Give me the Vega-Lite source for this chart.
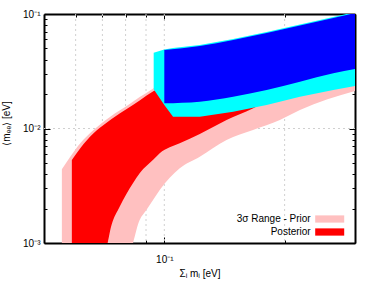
{
  "$schema": "https://vega.github.io/schema/vega-lite/v6.json",
  "width": 311,
  "height": 229,
  "autosize": {"type": "none"},
  "padding": {"left": 44, "top": 14, "right": 19, "bottom": 50},
  "background": "white",
  "config": {
    "view": {"stroke": null},
    "font": "Liberation Sans",
    "axis": {
      "labelFont": "Liberation Sans", "labelFontSize": 10, "labelColor": "#000",
      "titleFont": "Liberation Sans", "titleFontSize": 10, "titleFontWeight": "normal", "titleColor": "#000",
      "domainColor": "#000", "domainWidth": 2, "tickColor": "#000", "tickWidth": 1,
      "grid": false, "zindex": 1, "labelOverlap": false, "labelFlush": false
    }
  },
  "datasets": {
    "gridx": [{"v": 0.06}, {"v": 0.07}, {"v": 0.08}, {"v": 0.09}, {"v": 0.1}, {"v": 0.2}],
    "gridy": [{"v": 0.01}],
    "pink": [
      {"x": 0.05542, "hi": 0.00440, "lo": 0.0007, "band": "3σ Range - Prior"},
      {"x": 0.05816, "hi": 0.00567, "lo": 0.0007, "band": "3σ Range - Prior"},
      {"x": 0.06163, "hi": 0.00743, "lo": 0.0007, "band": "3σ Range - Prior"},
      {"x": 0.06652, "hi": 0.00970, "lo": 0.0007, "band": "3σ Range - Prior"},
      {"x": 0.07326, "hi": 0.01268, "lo": 0.0007, "band": "3σ Range - Prior"},
      {"x": 0.08189, "hi": 0.01637, "lo": 0.00085, "band": "3σ Range - Prior"},
      {"x": 0.08676, "hi": 0.01884, "lo": 0.00159, "band": "3σ Range - Prior"},
      {"x": 0.09019, "hi": 0.02042, "lo": 0.00194, "band": "3σ Range - Prior"},
      {"x": 0.09406, "hi": 0.02245, "lo": 0.00242, "band": "3σ Range - Prior"},
      {"x": 0.09738, "hi": 0.02399, "lo": 0.00290, "band": "3σ Range - Prior"},
      {"x": 0.10929, "hi": 0.02817, "lo": 0.00449, "band": "3σ Range - Prior"},
      {"x": 0.12268, "hi": 0.03376, "lo": 0.00567, "band": "3σ Range - Prior"},
      {"x": 0.14313, "hi": 0.04128, "lo": 0.00794, "band": "3σ Range - Prior"},
      {"x": 0.1667, "hi": 0.05047, "lo": 0.00970, "band": "3σ Range - Prior"},
      {"x": 0.19458, "hi": 0.05929, "lo": 0.01186, "band": "3σ Range - Prior"},
      {"x": 0.21846, "hi": 0.06557, "lo": 0.01450, "band": "3σ Range - Prior"},
      {"x": 0.3, "hi": 0.08862, "lo": 0.02125, "band": "3σ Range - Prior"}
    ],
    "red": [
      {"x": 0.0587, "hi": 0.00531, "lo": 0.0007, "band": "Posterior"},
      {"x": 0.06163, "hi": 0.00672, "lo": 0.0007, "band": "Posterior"},
      {"x": 0.06652, "hi": 0.00908, "lo": 0.0007, "band": "Posterior"},
      {"x": 0.0713, "hi": 0.01106, "lo": 0.00087, "band": "Posterior"},
      {"x": 0.07381, "hi": 0.01211, "lo": 0.00144, "band": "Posterior"},
      {"x": 0.07731, "hi": 0.01352, "lo": 0.00207, "band": "Posterior"},
      {"x": 0.08346, "hi": 0.01604, "lo": 0.00332, "band": "Posterior"},
      {"x": 0.08676, "hi": 0.01755, "lo": 0.00406, "band": "Posterior"},
      {"x": 0.09406, "hi": 0.02125, "lo": 0.00538, "band": "Posterior"},
      {"x": 0.09738, "hi": 0.02258, "lo": 0.00607, "band": "Posterior"},
      {"x": 0.10929, "hi": 0.02652, "lo": 0.00743, "band": "Posterior"},
      {"x": 0.12268, "hi": 0.03113, "lo": 0.00895, "band": "Posterior"},
      {"x": 0.14313, "hi": 0.03733, "lo": 0.01186, "band": "Posterior"},
      {"x": 0.16649, "hi": 0.04385, "lo": 0.01495, "band": "Posterior"},
      {"x": 0.18378, "hi": 0.04848, "lo": 0.01773, "band": "Posterior"},
      {"x": 0.21846, "hi": 0.05929, "lo": 0.02168, "band": "Posterior"},
      {"x": 0.3, "hi": 0.08015, "lo": 0.02761, "band": "Posterior"}
    ],
    "cyan": [
      {"x": 0.09406, "hi": 0.04592, "lo": 0.02200, "band": "IO Prior"},
      {"x": 0.1, "hi": 0.04897, "lo": 0.01607, "band": "IO Prior"},
      {"x": 0.10515, "hi": 0.05047, "lo": 0.01268, "band": "IO Prior"},
      {"x": 0.12268, "hi": 0.05362, "lo": 0.01268, "band": "IO Prior"},
      {"x": 0.14869, "hi": 0.06047, "lo": 0.01402, "band": "IO Prior"},
      {"x": 0.18031, "hi": 0.06964, "lo": 0.01604, "band": "IO Prior"},
      {"x": 0.21846, "hi": 0.08096, "lo": 0.01895, "band": "IO Prior"},
      {"x": 0.26478, "hi": 0.09415, "lo": 0.02168, "band": "IO Prior"},
      {"x": 0.3, "hi": 0.10410, "lo": 0.02350, "band": "IO Prior"}
    ],
    "blue": [
      {"x": 0.1, "hi": 0.04848, "lo": 0.01660, "band": "IO Posterior"},
      {"x": 0.12268, "hi": 0.05255, "lo": 0.01714, "band": "IO Posterior"},
      {"x": 0.14869, "hi": 0.05929, "lo": 0.01895, "band": "IO Posterior"},
      {"x": 0.18031, "hi": 0.06823, "lo": 0.02168, "band": "IO Posterior"},
      {"x": 0.21846, "hi": 0.07936, "lo": 0.02563, "band": "IO Posterior"},
      {"x": 0.26478, "hi": 0.09226, "lo": 0.03033, "band": "IO Posterior"},
      {"x": 0.3, "hi": 0.10203, "lo": 0.03309, "band": "IO Posterior"}
    ]
  },
  "layer": [
    {
      "data": {"name": "gridx"},
      "mark": {"type": "rule", "strokeDash": [2, 3], "color": "#d0d0d0", "strokeWidth": 1},
      "encoding": {
        "x": {"field": "v", "type": "quantitative", "scale": {"type": "log", "domain": [0.05, 0.3], "nice": false}, "axis": null}
      }
    },
    {
      "data": {"name": "gridy"},
      "mark": {"type": "rule", "strokeDash": [2, 3], "color": "#d0d0d0", "strokeWidth": 1},
      "encoding": {
        "y": {"field": "v", "type": "quantitative", "scale": {"type": "log", "domain": [0.001, 0.1], "nice": false}, "axis": null}
      }
    },
    {
      "data": {"name": "pink"},
      "mark": {"type": "area", "clip": true, "opacity": 1, "interpolate": "monotone"},
      "encoding": {
        "x": {"field": "x", "type": "quantitative", "scale": {"type": "log", "domain": [0.05, 0.3], "nice": false},
          "axis": {"orient": "bottom", "values": [0.06, 0.07, 0.08, 0.09, 0.1, 0.2, 0.3],
            "labelExpr": "datum.value == 0.1 ? '10⁻¹' : ''",
            "tickSize": {"condition": {"test": "datum.value == 0.1", "value": -6}, "value": -3},
            "labelPadding": 17, "labelBaseline": "top",
            "title": "Σᵢ mᵢ [eV]", "titleX": 155.5, "titleY": 30, "titleBaseline": "middle"}},
        "y": {"field": "hi", "type": "quantitative", "stack": null, "scale": {"type": "log", "domain": [0.001, 0.1], "nice": false},
          "axis": {"orient": "left", "values": [0.001, 0.002, 0.003, 0.004, 0.005, 0.006, 0.007, 0.008, 0.009, 0.01, 0.02, 0.03, 0.04, 0.05, 0.06, 0.07, 0.08, 0.09, 0.1],
            "labelExpr": "datum.value == 0.1 ? '10⁻¹' : datum.value == 0.01 ? '10⁻²' : datum.value == 0.001 ? '10⁻³' : ''",
            "tickSize": {"condition": {"test": "datum.value == 0.1 || datum.value == 0.01 || datum.value == 0.001", "value": -6}, "value": -3},
            "labelPadding": 10, "labelBaseline": "middle",
            "title": "⟨mₑₑ⟩ [eV]", "titleX": -38, "titleY": 109, "titleBaseline": "middle"}},
        "y2": {"field": "lo"},
        "color": {"field": "band", "type": "nominal",
          "scale": {"domain": ["3σ Range - Prior", "Posterior", "IO Prior", "IO Posterior"], "range": ["#ffc0c0", "#ff0000", "#00ffff", "#0000ff"]},
          "legend": {"orient": "none", "legendX": 280.7, "legendY": 200, "title": null,
            "values": ["3σ Range - Prior", "Posterior"],
            "symbolType": "M-4,-1H4V1H-4Z", "symbolSize": 52.6, "symbolStrokeWidth": 0, "symbolOpacity": 1,
            "labelFont": "Liberation Sans", "labelFontSize": 10, "labelColor": "#000",
            "labelAlign": "right", "labelOffset": -24, "rowPadding": 3}}
      }
    },
    {
      "data": {"name": "red"},
      "mark": {"type": "area", "clip": true, "opacity": 1, "interpolate": "monotone"},
      "encoding": {
        "x": {"field": "x", "type": "quantitative", "axis": null},
        "y": {"field": "hi", "type": "quantitative", "stack": null, "axis": null},
        "y2": {"field": "lo"},
        "color": {"field": "band", "type": "nominal"}
      }
    },
    {
      "data": {"name": "cyan"},
      "mark": {"type": "area", "clip": true, "opacity": 1},
      "encoding": {
        "x": {"field": "x", "type": "quantitative", "axis": null},
        "y": {"field": "hi", "type": "quantitative", "stack": null, "axis": null},
        "y2": {"field": "lo"},
        "color": {"field": "band", "type": "nominal"}
      }
    },
    {
      "data": {"name": "blue"},
      "mark": {"type": "area", "clip": true, "opacity": 1, "interpolate": "monotone"},
      "encoding": {
        "x": {"field": "x", "type": "quantitative",
          "axis": {"orient": "top", "values": [0.06, 0.07, 0.08, 0.09, 0.1, 0.2, 0.3], "labels": false, "title": null,
            "tickSize": {"condition": {"test": "datum.value == 0.1", "value": -6}, "value": -3}}},
        "y": {"field": "hi", "type": "quantitative", "stack": null,
          "axis": {"orient": "right", "values": [0.001, 0.002, 0.003, 0.004, 0.005, 0.006, 0.007, 0.008, 0.009, 0.01, 0.02, 0.03, 0.04, 0.05, 0.06, 0.07, 0.08, 0.09, 0.1], "labels": false, "title": null,
            "tickSize": {"condition": {"test": "datum.value == 0.1 || datum.value == 0.01 || datum.value == 0.001", "value": -6}, "value": -3}}},
        "y2": {"field": "lo"},
        "color": {"field": "band", "type": "nominal"}
      }
    }
  ],
  "resolve": {"axis": {"x": "independent", "y": "independent"}}
}
